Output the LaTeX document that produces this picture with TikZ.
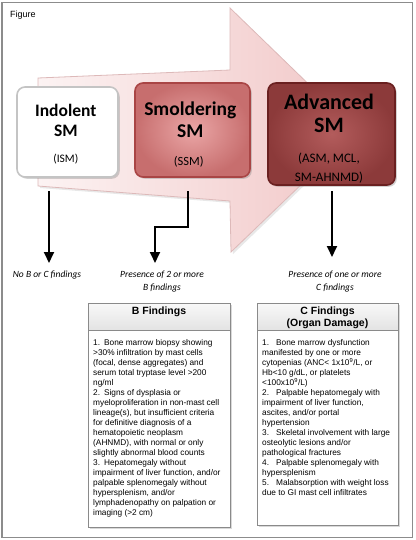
\documentclass[tikz,border=0pt]{standalone}
\usepackage{fontspec}
\setmainfont{Liberation Sans}
\newfontfamily\calfont{Carlito}
\usetikzlibrary{arrows.meta,shadows}
\definecolor{arrL}{HTML}{FCF3F3}
\definecolor{arrR}{HTML}{F1C6C6}
\definecolor{arrE}{HTML}{DDB9B9}
\definecolor{indE}{HTML}{C4C4C4}
\definecolor{smIn}{HTML}{EAA6A6}
\definecolor{smOut}{HTML}{C76E6E}
\definecolor{smE}{HTML}{A94545}
\definecolor{adIn}{HTML}{B35C5C}
\definecolor{adOut}{HTML}{8C3A3A}
\definecolor{adE}{HTML}{6A2020}
\definecolor{tabE}{HTML}{8A8A8A}
\definecolor{frameE}{HTML}{8C8C8C}
\begin{document}
\begin{tikzpicture}[x=1pt,y=-1pt,
  stage/.style={rounded corners=8pt, line width=1.6pt, inner sep=0pt,
     drop shadow={shadow xshift=1.8pt, shadow yshift=-1.8pt, opacity=0.35}},
  ttl/.style={inner sep=0pt, anchor=base},
  bigT/.style={ttl, font=\calfont\bfseries\fontsize{#1}{#1}\selectfont},
  subT/.style={ttl, font=\calfont\fontsize{#1}{#1}\selectfont},
  lab/.style={ttl, font=\calfont\itshape\fontsize{9.5}{12}\selectfont},
  arr/.style={line width=1.8pt, -{Triangle[width=10pt,length=11pt]}},
  tab/.style={draw=tabE, line width=0.8pt, fill=white, inner sep=0pt,
     drop shadow={shadow xshift=1.2pt, shadow yshift=-1.2pt, opacity=0.3}},
  band/.style={draw=tabE, line width=0.8pt, top color=gray!5, bottom color=gray!22},
  hdr/.style={ttl, font=\bfseries\fontsize{10.5}{12}\selectfont},
  listtxt/.style={anchor=north west, inner sep=0pt, align=left,
     font=\fontsize{8.3}{10}\selectfont}
]
\useasboundingbox (0,0) rectangle (415,540);
% outer frame
\draw[frameE, line width=1.5pt] (2,2.5) rectangle (412.5,537.5);
\node[anchor=base west, inner sep=0pt, font=\fontsize{9}{10}\selectfont] (fig) at (10,18) {Figure};

% big background arrow
\path[draw=arrE, line width=0.8pt, left color=arrL, right color=arrR,
      drop shadow={shadow xshift=2pt, shadow yshift=-2pt, opacity=0.18}]
  (38,78) -- (230,70) -- (230,8) -- (357,131) -- (231,252) -- (230,201) -- (38,186) -- cycle;

% stage boxes
\node[stage, draw=indE, fill=white, minimum width=101pt, minimum height=90pt] (ind) at (67.5,132) {};
\node[stage, draw=smE, inner color=smIn, outer color=smOut, minimum width=115pt, minimum height=94pt] (smo) at (192.5,130) {};
\node[stage, draw=adE, inner color=adIn, outer color=adOut, minimum width=127pt, minimum height=102pt] (adv) at (331.5,134) {};

\node[bigT=17.5] (indT1) at (65.8,117) {Indolent};
\node[bigT=17.5] (indT2) at (65.8,137) {SM};
\node[subT=11.5] (indT3) at (65.8,162.5) {(ISM)};

\node[bigT=19.5] (smoT1) at (190.3,116) {Smoldering};
\node[bigT=19.5] (smoT2) at (190.3,138) {SM};
\node[subT=12.5] (smoT3) at (188.7,166) {(SSM)};

\node[bigT=22] (advT1) at (329,110) {Advanced};
\node[bigT=22] (advT2) at (329,133) {SM};
\node[subT=13] (advT3) at (329,162) {(ASM, MCL,};
\node[subT=13] (advT4) at (329,182) {SM-AHNMD)};

% labels
\node[lab] (lab1) at (47,277) {No B or C findings};
\node[lab] (lab2a) at (162,277) {Presence of 2 or more};
\node[lab] (lab2b) at (162,290) {B findings};
\node[lab] (lab3a) at (335,277) {Presence of one or more};
\node[lab] (lab3b) at (335,290) {C findings};

% connectors
\coordinate (a1s) at (49,191);
\coordinate (a1e) at (49,263);
\coordinate (a2s) at (188,191);
\coordinate (a2k) at (188,227);
\coordinate (a2m) at (155,227);
\coordinate (a2e) at (155,263);
\coordinate (a3s) at (332,191);
\coordinate (a3e) at (332,257);
\draw[arr] (a1s) -- (a1e);
\draw[arr] (a2s) -- (a2k) -- (a2m) -- (a2e);
\draw[arr] (a3s) -- (a3e);

% B findings table
\node[tab, anchor=north west, minimum width=142pt, minimum height=224pt] (Bbox) at (88,303) {};
\coordinate (Bsep) at (88,330);
\path[band] (Bbox.north west) rectangle (Bbox.east |- Bsep);
\node[hdr] (Bhdr) at (159,314) {B Findings};
\node[listtxt] (Btxt) at (93,339.5) {1.\hspace{4pt}Bone marrow biopsy showing\\
>30\% infiltration by mast cells\\
(focal, dense aggregates) and\\
serum total tryptase level >200\\
ng/ml\\
2.\hspace{4pt}Signs of dysplasia or\\
myeloproliferation in non-mast cell\\
lineage(s), but insufficient criteria\\
for definitive diagnosis of a\\
hematopoietic neoplasm\\
(AHNMD), with normal or only\\
slightly abnormal blood counts\\
3.\hspace{4pt}Hepatomegaly without\\
impairment of liver function, and/or\\
palpable splenomegaly without\\
hypersplenism, and/or\\
lymphadenopathy on palpation or\\
imaging (>2 cm)};

% C findings table
\node[tab, anchor=north west, minimum width=141pt, minimum height=222pt] (Cbox) at (257,303) {};
\coordinate (Csep) at (257,330);
\path[band] (Cbox.north west) rectangle (Cbox.east |- Csep);
\node[hdr] (Chdr1) at (327.5,314.5) {C Findings};
\node[hdr] (Chdr2) at (327.5,326) {(Organ Damage)};
\node[listtxt] (Ctxt) at (262,339.5) {1.\hspace{7pt}Bone marrow dysfunction\\
manifested by one or more\\
cytopenias (ANC< 1x10\textsuperscript{9}/L, or\\
Hb<10 g/dL, or platelets\\
<100x10\textsuperscript{9}/L)\\
2.\hspace{7pt}Palpable hepatomegaly with\\
impairment of liver function,\\
ascites, and/or portal\\
hypertension\\
3.\hspace{7pt}Skeletal involvement with large\\
osteolytic lesions and/or\\
pathological fractures\\
4.\hspace{7pt}Palpable splenomegaly with\\
hypersplenism\\
5.\hspace{7pt}Malabsorption with weight loss\\
due to GI mast cell infiltrates};
\end{tikzpicture}
\end{document}
